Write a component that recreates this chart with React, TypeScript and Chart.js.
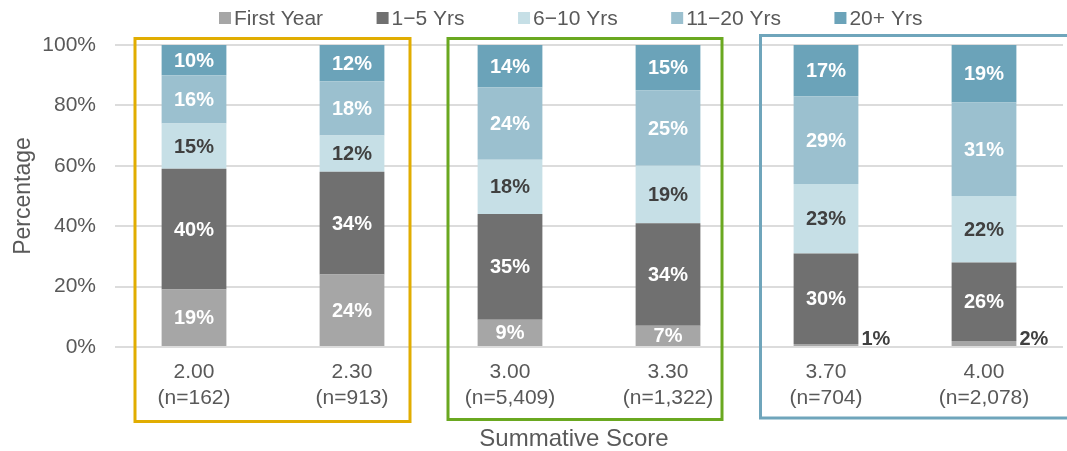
import React, { useEffect, useRef } from "react";
import { Chart, registerables } from "chart.js";

Chart.register(...registerables);

// ---- Data ----
const scores = ["2.00", "2.30", "3.00", "3.30", "3.70", "4.00"];
const counts = ["(n=162)", "(n=913)", "(n=5,409)", "(n=1,322)", "(n=704)", "(n=2,078)"];
const seriesNames = ["First Year", "1\u22125 Yrs", "6\u221210 Yrs", "11\u221220 Yrs", "20+ Yrs"];
const firstYear = [19, 24, 9, 7, 1, 2];
const yrs1to5 = [40, 34, 35, 34, 30, 26];
const yrs6to10 = [15, 12, 18, 19, 23, 22];
const yrs11to20 = [16, 18, 24, 25, 29, 31];
const yrs20plus = [10, 12, 14, 15, 17, 19];
const yTicks = [0, 20, 40, 60, 80, 100];
const xTitle = "Summative Score";
const yTitle = "Percentage";

const seriesColors = ["#a6a6a6", "#707070", "#c6dfe6", "#9bc0cf", "#6ba3b9"];
const labelColors = ["#ffffff", "#ffffff", "#404040", "#ffffff", "#ffffff"];
const FONT = "'Liberation Sans', Arial, sans-serif";
const TEXT = "#595959";

const overlayPlugin = {
  id: "overlay",
  afterDatasetsDraw(chart: any) {
    const ctx = chart.ctx;
    ctx.save();
    ctx.font = `bold 20px ${FONT}`;
    chart.data.datasets.forEach((ds: any, di: number) => {
      const meta = chart.getDatasetMeta(di);
      meta.data.forEach((bar: any, i: number) => {
        const v = ds.data[i] as number;
        const p = bar.getProps(["x", "y", "base", "width"], true);
        if (v >= 5) {
          ctx.fillStyle = labelColors[di];
          ctx.textAlign = "center";
          ctx.textBaseline = "middle";
          ctx.fillText(v + "%", p.x, (p.y + p.base) / 2 + 1);
        } else {
          ctx.fillStyle = "#404040";
          ctx.textAlign = "left";
          ctx.textBaseline = "alphabetic";
          ctx.fillText(v + "%", p.x + p.width / 2 + 3, p.base - 1);
        }
      });
    });
    ctx.restore();
  },
  afterDraw(chart: any) {
    const ctx = chart.ctx;
    const xs = chart.scales.x;
    const area = chart.chartArea;
    const px = (i: number) => xs.getPixelForValue(i);
    ctx.save();
    ctx.lineWidth = 3;
    const groups = [
      { l: px(0) - 59, r: px(1) + 58, t: area.top - 6.5, b: 421.5, c: "#e1ad01" },
      { l: px(2) - 62, r: px(3) + 54, t: area.top - 6.5, b: 419.5, c: "#6aa820" },
      { l: px(4) - 65.5, r: chart.width + 10, t: area.top - 9.5, b: 418, c: "#6fa5bb" },
    ];
    groups.forEach((g) => {
      ctx.strokeStyle = g.c;
      ctx.strokeRect(g.l, g.t, g.r - g.l, g.b - g.t);
    });

    // x axis title
    ctx.font = `24px ${FONT}`;
    ctx.fillStyle = TEXT;
    ctx.textAlign = "center";
    ctx.textBaseline = "middle";
    ctx.fillText(xTitle, 574, 439);

    // legend
    ctx.font = `21px ${FONT}`;
    ctx.textBaseline = "middle";
    ctx.textAlign = "left";
    let x = 219;
    const yc = 18;
    chart.data.datasets.forEach((ds: any) => {
      ctx.fillStyle = ds.backgroundColor;
      ctx.fillRect(x, yc - 6, 12, 12);
      x += 15;
      ctx.fillStyle = TEXT;
      ctx.fillText(ds.label, x, yc + 1);
      x += ctx.measureText(ds.label).width + 53.5;
    });
    ctx.restore();
  },
};

export default function App() {
  const ref = useRef<HTMLCanvasElement | null>(null);
  useEffect(() => {
    if (!ref.current) return;
    const values = [firstYear, yrs1to5, yrs6to10, yrs11to20, yrs20plus];
    const chart = new Chart(ref.current, {
      type: "bar",
      data: {
        labels: scores.map((s, i) => [s, counts[i]]),
        datasets: seriesNames.map((name, i) => ({
          label: name,
          data: values[i],
          backgroundColor: seriesColors[i],
          borderWidth: 0,
          categoryPercentage: 1,
          barPercentage: 0.41,
        })),
      },
      options: {
        responsive: false,
        animation: false,
        layout: { padding: { top: 45, right: 4, left: 0, bottom: 0 } },
        plugins: {
          legend: { display: false },
          tooltip: { enabled: false },
        },
        scales: {
          x: {
            stacked: true,
            grid: { display: false, drawTicks: false },
            border: { display: false },
            ticks: {
              color: TEXT,
              font: { family: FONT, size: 21, lineHeight: 1.2 },
              padding: 13,
              maxRotation: 0,
              autoSkip: false,
            },
            afterFit: (s: any) => {
              s.height = 104;
            },
          },
          y: {
            stacked: true,
            min: 0,
            max: 100,
            afterBuildTicks: (s: any) => {
              s.ticks = yTicks.map((v) => ({ value: v }));
            },
            grid: { color: "#dcdcdc", lineWidth: 2, drawTicks: false },
            border: { display: false },
            ticks: {
              color: TEXT,
              font: { family: FONT, size: 21 },
              padding: 19,
              callback: (v: any) => v + "%",
            },
            title: {
              display: true,
              text: yTitle,
              color: TEXT,
              font: { family: FONT, size: 23 },
              padding: { top: 10, bottom: 0 },
            },
            afterFit: (s: any) => {
              s.width = 115;
            },
          },
        },
      },
      plugins: [overlayPlugin],
    });
    return () => chart.destroy();
  }, []);
  return (
    <div style={{ position: "fixed", left: 0, top: 0, width: 1067, height: 451, background: "#fff" }}>
      <canvas ref={ref} width={1067} height={451} />
    </div>
  );
}
